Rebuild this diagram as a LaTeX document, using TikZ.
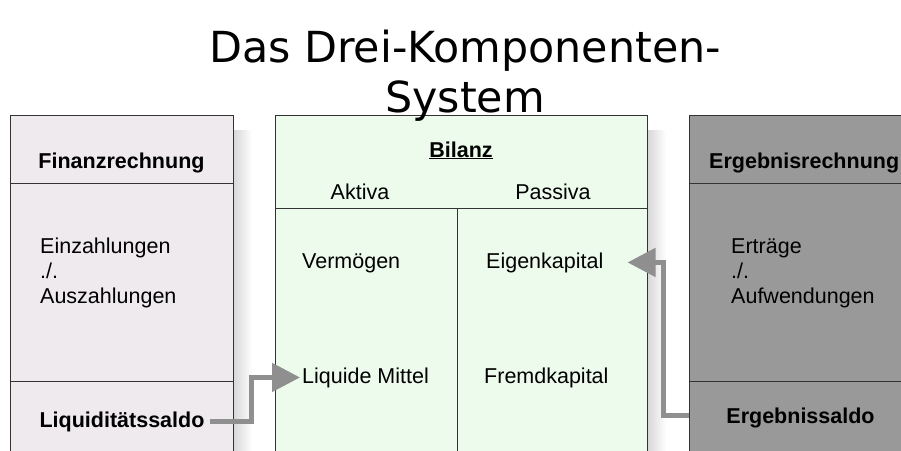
\documentclass[tikz,border=0pt]{standalone}
\usepackage{fontspec}
\setmainfont{Liberation Sans}
\newfontfamily\titlefont{DejaVu Sans}
\usepackage{tikz}
\usetikzlibrary{positioning,calc,arrows.meta}

\definecolor{finfill}{RGB}{238,234,238}
\definecolor{bilfill}{RGB}{237,251,237}
\definecolor{ergfill}{RGB}{153,153,153}
\definecolor{flowgray}{RGB}{143,143,143}
\definecolor{rule}{RGB}{51,51,51}

\tikzset{
  box/.style={draw=rule, line width=0.8pt},
  lbl/.style={font=\fontsize{21.5}{25}\selectfont, inner sep=2pt},
  head/.style={font=\fontsize{21.5}{25}\selectfont\bfseries, inner sep=2pt},
  flow/.style={draw=flowgray, line width=5pt, -{Triangle[length=28pt,width=28pt]}},
}

\begin{document}
\begin{tikzpicture}[x=1pt,y=-1pt]
\useasboundingbox (0,0) rectangle (901,450);

% shadows
\fill[left color=black!16, right color=white] (233,130) rectangle (252,460);
\fill[left color=black!16, right color=white] (647,130) rectangle (666,460);

% boxes
\draw[box, fill=finfill] (10,115) rectangle (233,460);
\draw[box] (10,183) -- (233,183);
\draw[box] (10,381) -- (233,381);

\draw[box, fill=bilfill] (275,115) rectangle (647,460);
\draw[box] (275,208) -- (647,208);
\draw[box] (457,208) -- (457,460);

\draw[box, fill=ergfill] (689,115) rectangle (912,460);
\draw[box] (689,183) -- (912,183);
\draw[box] (689,381) -- (912,381);

% title (base = last line)
\node[font=\titlefont\fontsize{42.8}{50}\selectfont, align=center, anchor=base] (title) at (465,112) {Das Drei-Komponenten-\\System};

% Finanzrechnung
\node[head, anchor=base] (finhead) at (121.5,168) {Finanzrechnung};
\node[lbl, align=left, anchor=base west] (finbody) at (38,303) {Einzahlungen\\./.\\Auszahlungen};
\node[head, anchor=base] (liqsaldo) at (122,427) {Liquiditätssaldo};

% Bilanz
\node[head, anchor=base] (bilhead) at (461,157) {\underline{Bilanz}};
\node[lbl, anchor=base] (aktiva) at (360,199) {Aktiva};
\node[lbl, anchor=base] (passiva) at (553,199) {Passiva};
\node[lbl, anchor=base west] (vermoegen) at (300,268) {Vermögen};
\node[lbl, anchor=base west] (eigen) at (484,268) {Eigenkapital};
\node[lbl, anchor=base west] (liquide) at (300,383) {Liquide Mittel};
\node[lbl, anchor=base west] (fremd) at (482,383) {Fremdkapital};

% Ergebnisrechnung
\node[head, anchor=base west] (erghead) at (707,168) {Ergebnisrechnung};
\node[lbl, align=left, anchor=base west] (ergbody) at (729,303) {Erträge\\./.\\Aufwendungen};
\node[head, anchor=base] (ergsaldo) at (800.5,423) {Ergebnissaldo};
\coordinate (ergin) at (689,415);

% flows
\draw[flow] ([xshift=3pt]liqsaldo.east) -- ++(42,0) |- (liquide.west);
\draw[flow] (ergin) -- ++(-26,0) |- ([xshift=22pt]eigen.east);
\end{tikzpicture}
\end{document}
